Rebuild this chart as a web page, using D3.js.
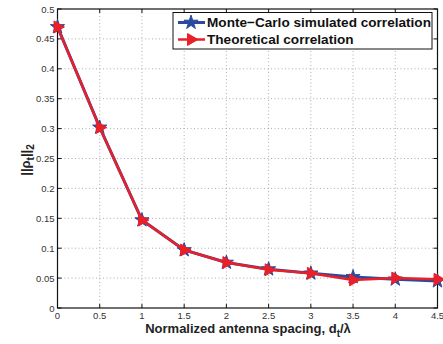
<html lang="en">
<head>
  <meta charset="utf-8">
  <title>Correlation vs antenna spacing</title>
  <script src="https://cdn.jsdelivr.net/npm/d3@7"></script>
  <style>
    body { margin: 0; background: #fff; }
    text { font-family: 'Liberation Sans', Arial, sans-serif; }
    .tick_label { font-size: 9.5px; fill: #333; }
    .axis_label { font-size: 13px; font-weight: bold; fill: #222; }
    .legend_text { font-size: 13.6px; font-weight: bold; fill: #111; }
  </style>
</head>
<body>
<svg id="chart" width="443" height="344"></svg>
<script>

var spacing = [0, 0.5, 1, 1.5, 2, 2.5, 3, 3.5, 4, 4.5];
var mc_values = [0.470, 0.302, 0.147, 0.097, 0.076, 0.065, 0.058, 0.052, 0.048, 0.045];
var theory_values = [0.470, 0.302, 0.147, 0.097, 0.076, 0.064, 0.058, 0.047, 0.050, 0.048];
var x_ticks = [0, 0.5, 1, 1.5, 2, 2.5, 3, 3.5, 4, 4.5];
var y_ticks = [0, 0.05, 0.1, 0.15, 0.2, 0.25, 0.3, 0.35, 0.4, 0.45, 0.5];
var series_names = ['Monte\u2212Carlo simulated correlation', 'Theoretical correlation'];

var p_left = 57.5, p_right = 437.5, p_top = 9, p_bottom = 308;
var svg = d3.select('#chart');

var xScale = d3.scaleLinear().domain([0, 4.5]).range([p_left, p_right]);
var yScale = d3.scaleLinear().domain([0, 0.5]).range([p_bottom, p_top]);

// grid
var grid = svg.append('g');
x_ticks.slice(1, -1).forEach(function(t){
  grid.append('line').attr('x1', xScale(t)).attr('x2', xScale(t)).attr('y1', p_top).attr('y2', p_bottom)
    .style('stroke', '#999').style('stroke-width', 0.8).style('stroke-dasharray', '1,2.5');
});
y_ticks.slice(1, -1).forEach(function(t){
  grid.append('line').attr('y1', yScale(t)).attr('y2', yScale(t)).attr('x1', p_left).attr('x2', p_right)
    .style('stroke', '#999').style('stroke-width', 0.8).style('stroke-dasharray', '1,2.5');
});

// axes box + inward ticks
var axes = svg.append('g');
axes.append('rect').attr('x', p_left).attr('y', p_top).attr('width', p_right - p_left).attr('height', p_bottom - p_top)
  .style('fill', 'none').style('stroke', '#111').style('stroke-width', 1.2);

x_ticks.forEach(function(t){
  axes.append('line').attr('x1', xScale(t)).attr('x2', xScale(t)).attr('y1', p_bottom).attr('y2', p_bottom - 4).style('stroke', '#111');
  axes.append('line').attr('x1', xScale(t)).attr('x2', xScale(t)).attr('y1', p_top).attr('y2', p_top + 4).style('stroke', '#111');
  axes.append('text').attr('class', 'tick_label').attr('x', xScale(t)).attr('y', p_bottom + 10.5)
    .attr('text-anchor', 'middle').text(t);
});
y_ticks.forEach(function(t){
  axes.append('line').attr('y1', yScale(t)).attr('y2', yScale(t)).attr('x1', p_left).attr('x2', p_left + 4).style('stroke', '#111');
  axes.append('line').attr('y1', yScale(t)).attr('y2', yScale(t)).attr('x1', p_right).attr('x2', p_right - 4).style('stroke', '#111');
  axes.append('text').attr('class', 'tick_label').attr('x', p_left - 3).attr('y', yScale(t) + 3.5)
    .attr('text-anchor', 'end').text(t);
});

// axis labels
var xl = svg.append('text').attr('class', 'axis_label').attr('x', 248).attr('y', 332.5).attr('text-anchor', 'middle');
xl.append('tspan').text('Normalized antenna spacing, d');
xl.append('tspan').attr('dy', 4).style('font-size', '10px').text('t');
xl.append('tspan').attr('dy', -4).text('/\u03bb');

var yl = svg.append('text').attr('class', 'axis_label').attr('transform', 'translate(30,' + 160 + ') rotate(-90)')
  .attr('text-anchor', 'middle');
yl.append('tspan').text('||\u03c1');
yl.append('tspan').attr('dy', 4).style('font-size', '10px').text('t');
yl.append('tspan').attr('dy', -4).text('||');
yl.append('tspan').attr('dy', 4).style('font-size', '10px').text('2');

// series
var line = d3.line().x(function(d){ return xScale(d[0]); }).y(function(d){ return yScale(d[1]); });
var star = d3.symbol().type(d3.symbolStar).size(62);
var tri = d3.symbol().type(d3.symbolTriangle).size(62);

var mc_data = spacing.map(function(s, i){ return [s, mc_values[i]]; });
var th_data = spacing.map(function(s, i){ return [s, theory_values[i]]; });

var plot = svg.append('g');
plot.append('path').datum(mc_data).attr('d', line)
  .style('fill', 'none').style('stroke', '#2b4a9e').style('stroke-width', 3);
plot.selectAll('.mc').data(mc_data).enter().append('path').attr('class', 'mc')
  .attr('d', star).attr('transform', function(d){ return 'translate(' + xScale(d[0]) + ',' + yScale(d[1]) + ')'; })
  .style('fill', '#2b4a9e').style('stroke', '#2b4a9e').style('stroke-width', 1);

plot.append('path').datum(th_data).attr('d', line)
  .style('fill', 'none').style('stroke', '#e8202a').style('stroke-width', 2.5);
plot.selectAll('.th').data(th_data).enter().append('path').attr('class', 'th')
  .attr('d', tri).attr('transform', function(d){ return 'translate(' + xScale(d[0]) + ',' + yScale(d[1]) + ') rotate(90)'; })
  .style('fill', '#e8202a').style('stroke', '#e8202a').style('stroke-width', 1);

// legend
var lg = svg.append('g');
lg.append('rect').attr('x', 173).attr('y', 12.5).attr('width', 259).attr('height', 36.5)
  .style('fill', '#fff').style('stroke', '#111').style('stroke-width', 1);
var colors = ['#2b4a9e', '#e8202a'];
series_names.forEach(function(name, i){
  var yy = 22.5 + i * 17;
  lg.append('line').attr('x1', 178).attr('x2', 205).attr('y1', yy).attr('y2', yy)
    .style('stroke', colors[i]).style('stroke-width', i == 0 ? 3 : 2.5);
  lg.append('path').attr('d', i == 0 ? star : tri)
    .attr('transform', 'translate(191,' + yy + ')' + (i == 0 ? '' : ' rotate(90)'))
    .style('fill', colors[i]).style('stroke', colors[i]).style('stroke-width', 1);
  lg.append('text').attr('class', 'legend_text').attr('x', 207).attr('y', yy + 4.8).text(name);
});

</script>
</body>
</html>
